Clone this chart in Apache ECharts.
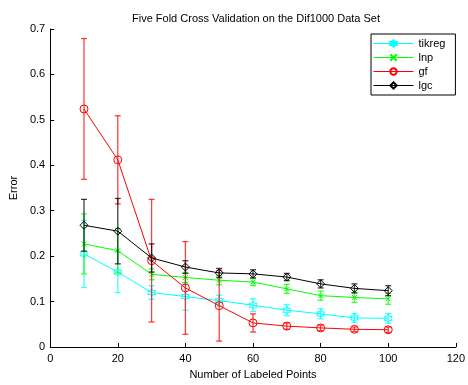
<!DOCTYPE html>
<html>
<head>
<meta charset="utf-8">
<script src="https://cdn.jsdelivr.net/npm/echarts@6/dist/echarts.min.js"></script>
<style>
  html, body { margin: 0; padding: 0; background: #fff; }
  #chart { width: 468px; height: 385px; }
</style>
</head>
<body>
<div id="chart"></div>
<script>
const labeled = [10, 20, 30, 40, 50, 60, 70, 80, 90, 100]

const tikreg = [0.205, 0.165, 0.120, 0.111, 0.102, 0.092, 0.081, 0.073, 0.064, 0.063]
const tikregErr = [0.074, 0.045, 0.015, 0.030, 0.012, 0.014, 0.012, 0.011, 0.010, 0.011]
const lnp = [0.227, 0.212, 0.160, 0.153, 0.147, 0.143, 0.128, 0.113, 0.109, 0.106]
const lnpErr = [0.066, 0.049, 0.012, 0.011, 0.010, 0.008, 0.010, 0.010, 0.011, 0.012]
const gf = [0.524, 0.412, 0.190, 0.130, 0.091, 0.053, 0.046, 0.042, 0.039, 0.038]
const gfErr = [0.155, 0.097, 0.135, 0.102, 0.078, 0.020, 0.007, 0.006, 0.005, 0.006]
const lgc = [0.268, 0.255, 0.196, 0.176, 0.163, 0.161, 0.154, 0.139, 0.129, 0.124]
const lgcErr = [0.057, 0.072, 0.031, 0.014, 0.010, 0.009, 0.008, 0.009, 0.010, 0.011]

const font = 'Liberation Sans, Arial, sans-serif'
const crossPath = 'path://M0,0L10,10M10,0L0,10'
const hexPath = 'path://M5,0L6.4,2.5L9.3,2.5L7.9,5L9.3,7.5L6.4,7.5L5,10L3.6,7.5L0.7,7.5L2.1,5L0.7,2.5L3.6,2.5Z'

// line + hollow markers for one method
function lineSeries(name, ys, color, symbol, size, z) {
    return {
        name,
        type: 'line',
        z,
        data: labeled.map((x, i) => [x, ys[i]]),
        symbol,
        symbolSize: size,
        showSymbol: true,
        lineStyle: { color, width: 1 },
        itemStyle: { color: 'rgba(0,0,0,0)', borderColor: color, borderWidth: 1 },
        emphasis: { disabled: true }
    }
}

// vertical error bars with small caps
function errSeries(name, ys, es, color, z) {
    return {
        name: name + '-err',
        type: 'custom',
        z,
        data: labeled.map((x, i) => [x, ys[i], es[i]]),
        renderItem(params, api) {
            const x = api.value(0)
            const y = api.value(1)
            const e = api.value(2)
            const top = api.coord([x, y + e])
            const bot = api.coord([x, y - e])
            const w = 3
            const style = { stroke: color, lineWidth: 1.3, opacity: 0.75 }
            return {
                type: 'group',
                children: [
                    { type: 'line', shape: { x1: top[0], y1: top[1], x2: bot[0], y2: bot[1] }, style },
                    { type: 'line', shape: { x1: top[0] - w, y1: top[1], x2: top[0] + w, y2: top[1] }, style },
                    { type: 'line', shape: { x1: bot[0] - w, y1: bot[1], x2: bot[0] + w, y2: bot[1] }, style }
                ]
            }
        }
    }
}

const chart = echarts.init(document.getElementById('chart'))
chart.setOption({
    animation: false,
    textStyle: { fontFamily: font },
    title: {
        text: 'Five Fold Cross Validation on the Dif1000 Data Set',
        left: 251,
        top: 8,
        textAlign: 'center',
        textStyle: { fontSize: 11, fontWeight: 'normal', color: '#000', fontFamily: font }
    },
    legend: {
        data: ['tikreg', 'lnp', 'gf', 'lgc'],
        orient: 'vertical',
        left: 371,
        top: 34,
        itemWidth: 40,
        itemHeight: 8,
        itemGap: 3,
        padding: [4, 10, 4, 2],
        borderColor: '#000',
        borderWidth: 1,
        backgroundColor: '#fff',
        lineStyle: { width: 1 },
        textStyle: { fontSize: 11, color: '#000', fontFamily: font }
    },
    grid: { left: 45, right: 12, top: 29, bottom: 32 },
    xAxis: {
        type: 'value',
        min: 0,
        max: 120,
        interval: 20,
        name: 'Number of Labeled Points',
        nameLocation: 'middle',
        nameGap: 22,
        nameTextStyle: { fontSize: 11, color: '#000' },
        axisLine: { lineStyle: { color: '#000', width: 1 } },
        axisTick: { inside: true, length: 4, lineStyle: { color: '#000' } },
        axisLabel: { fontSize: 11, color: '#000', margin: 6 },
        splitLine: { show: false }
    },
    yAxis: {
        type: 'value',
        min: 0,
        max: 0.7,
        interval: 0.1,
        name: 'Error',
        nameLocation: 'middle',
        nameGap: 28,
        nameTextStyle: { fontSize: 11, color: '#000' },
        axisLine: { show: true, lineStyle: { color: '#000', width: 1 } },
        axisTick: { show: true, inside: true, length: 4, lineStyle: { color: '#000' } },
        axisLabel: { fontSize: 11, color: '#000', margin: 5, formatter: v => v === 0 ? '0' : v.toFixed(1) },
        splitLine: { show: false }
    },
    series: [
        errSeries('tikreg', tikreg, tikregErr, '#00ffff', 2),
        lineSeries('tikreg', tikreg, '#00ffff', hexPath, 8, 3),
        errSeries('lnp', lnp, lnpErr, '#00ff00', 4),
        lineSeries('lnp', lnp, '#00ff00', crossPath, 5, 5),
        errSeries('gf', gf, gfErr, '#ff0000', 6),
        lineSeries('gf', gf, '#ff0000', 'circle', 8, 7),
        errSeries('lgc', lgc, lgcErr, '#000000', 8),
        lineSeries('lgc', lgc, '#000000', 'diamond', 8, 9)
    ]
})
</script>
</body>
</html>
